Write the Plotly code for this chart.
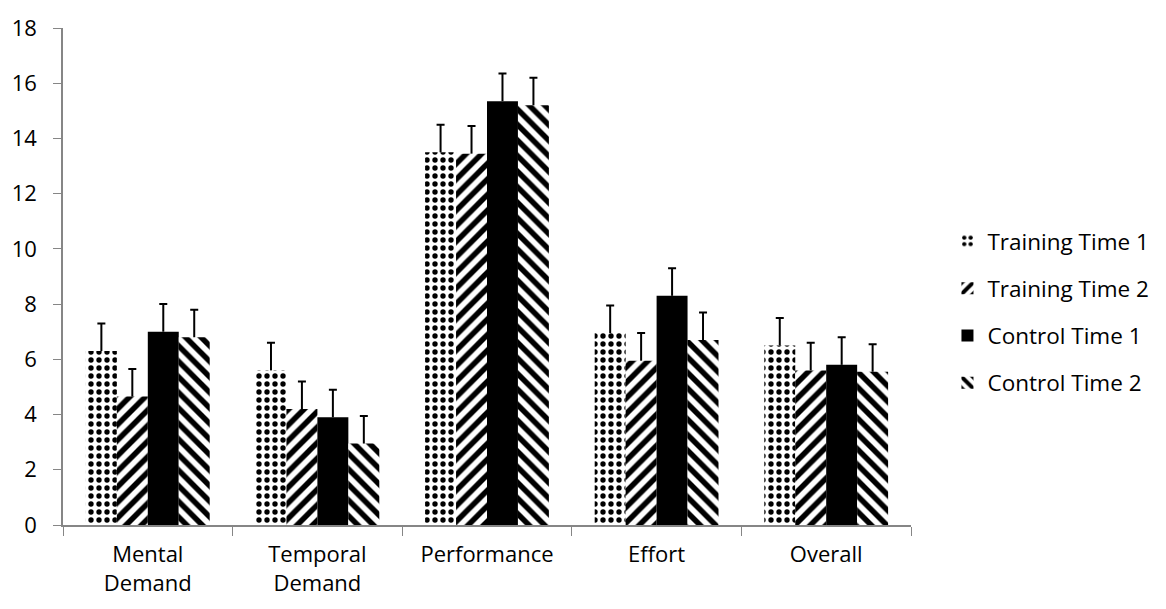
import plotly.graph_objects as go

categories = ["Mental<br>Demand", "Temporal<br>Demand", "Performance", "Effort", "Overall"]
series_names = ["Training Time 1", "Training Time 2", "Control Time 1", "Control Time 2"]
training_t1 = [6.3, 5.6, 13.5, 6.95, 6.5]
training_t2 = [4.65, 4.2, 13.45, 5.95, 5.6]
control_t1 = [7.0, 3.9, 15.35, 8.3, 5.8]
control_t2 = [6.8, 2.95, 15.2, 6.7, 5.55]
err_t1 = [1.0, 1.0, 1.0, 1.0, 1.0]
err_t2 = [1.0, 1.0, 1.0, 1.0, 1.0]
err_c1 = [1.0, 1.0, 1.0, 1.0, 1.0]
err_c2 = [1.0, 1.0, 1.0, 1.0, 1.0]

values = [training_t1, training_t2, control_t1, control_t2]
errors = [err_t1, err_t2, err_c1, err_c2]
shapes = [".", "/", "", "\\"]
sizes = [8, 11, 8, 11]
solid = [0.35, 0.5, 0.3, 0.5]

fig = go.Figure()
for i, (name, vals, errs, shp) in enumerate(zip(series_names, values, errors, shapes)):
    marker = dict(color="black" if shp == "" else "white", line=dict(width=0))
    if shp:
        marker["pattern"] = dict(shape=shp, fgcolor="black", bgcolor="white", fgopacity=1,
                                 size=sizes[i], solidity=solid[i], fillmode="replace")
    # bar with the vertical part of the (plus-only) error bar, no caps
    fig.add_trace(go.Bar(
        x=categories, y=vals, name=name, legendgroup=f"g{i}", offsetgroup=f"g{i}",
        marker=marker,
        error_y=dict(type="data", array=errs, symmetric=False,
                     arrayminus=[0] * len(errs), color="black", thickness=2, width=0),
    ))
    # invisible zero-height bar at the top of the error bar, carrying only the cap
    tops = [v + e for v, e in zip(vals, errs)]
    fig.add_trace(go.Bar(
        x=categories, y=[0] * len(vals), base=tops, offsetgroup=f"g{i}",
        legendgroup=f"g{i}", showlegend=False, hoverinfo="skip",
        marker=dict(color="rgba(0,0,0,0)", line=dict(width=0)),
        error_y=dict(type="data", array=[0] * len(vals), color="black", thickness=2, width=4),
    ))

fig.update_layout(
    width=1166, height=609,
    paper_bgcolor="white", plot_bgcolor="white",
    margin=dict(l=63, r=241, t=21, b=84),
    barmode="group", bargap=0.27, bargroupgap=0,
    font=dict(family="Open Sans, sans-serif", size=22, color="black"),
    legend=dict(x=1.043, y=0.429, xanchor="left", yanchor="middle",
                tracegroupgap=15, itemwidth=30, font=dict(size=22.5)),
    showlegend=True,
)
fig.update_xaxes(showline=True, linecolor="#868686", linewidth=1.5,
                 ticks="outside", tickson="boundaries", ticklen=9, tickcolor="#868686",
                 showgrid=False, ticklabelstandoff=9)
fig.update_yaxes(range=[0, 18], dtick=2, showline=True, linecolor="#868686", linewidth=1.5,
                 ticks="outside", ticklen=8, tickcolor="#868686", showgrid=False,
                 zeroline=False, ticklabelstandoff=12)

fig.write_html("out.html", config={"displayModeBar": False},
               post_script="document.body.style.margin='0px';")
